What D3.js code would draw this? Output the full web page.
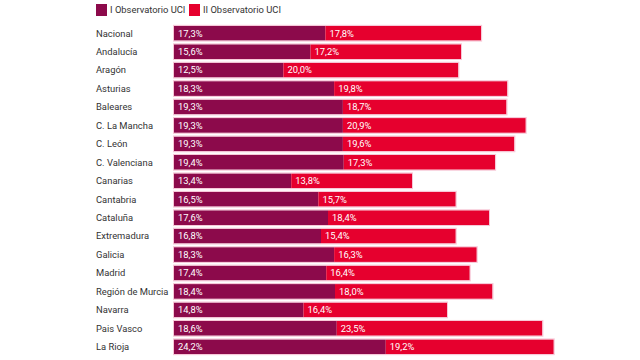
<!DOCTYPE html>
<html><head><meta charset="utf-8">
<script src="https://cdn.jsdelivr.net/npm/d3@7"></script>
<style>body{margin:0;background:#fff;}svg{display:block;font-family:Roboto,"Noto Sans",sans-serif;}</style>
</head><body>
<svg id="c" width="640" height="360"></svg>
<script>
const categories = ["Nacional","Andalucía","Aragón","Asturias","Baleares","C. La Mancha","C. León","C. Valenciana","Canarias","Cantabria","Cataluña","Extremadura","Galicia","Madrid","Región de Murcia","Navarra","Pais Vasco","La Rioja"];
const seriesI  = [17.3,15.6,12.5,18.3,19.3,19.3,19.3,19.4,13.4,16.5,17.6,16.8,18.3,17.4,18.4,14.8,18.6,24.2];
const seriesII = [17.8,17.2,20.0,19.8,18.7,20.9,19.6,17.3,13.8,15.7,18.4,15.4,16.3,16.4,18.0,16.4,23.5,19.2];
const seriesNames = ["I Observatorio UCI","II Observatorio UCI"];
const colors = ["#8c0a4b","#e6002e"];
const FS = 9.4;

const svg = d3.select("#c");
const x = d3.scaleLinear().domain([0, 45]).range([174, 174 + 45*8.75]);
const y = d3.scaleBand().domain(categories).range([24, 356]).paddingInner(0.2).paddingOuter(0.1);

const rows = categories.map((c,i)=>({c, a: seriesI[i], b: seriesII[i]}));
const fmt = v => d3.format(".1f")(v).replace(".", ",") + "%";

const g = svg.append("g");
rows.forEach(r => {
  const segs = [{s:0, e:r.a, v:r.a, k:0},{s:r.a, e:r.a+r.b, v:r.b, k:1}];
  segs.forEach(sg => {
    g.append("rect").attr("x", x(sg.s)).attr("y", y(r.c))
      .attr("width", x(sg.e)-x(sg.s)).attr("height", y.bandwidth())
      .attr("fill", colors[sg.k]);
    g.append("text").attr("x", x(sg.s)+4).attr("y", y(r.c)+y.bandwidth()/2)
      .attr("dy","0.35em").attr("fill","#fff").attr("font-size",FS).text(fmt(sg.v));
  });
  g.append("rect").attr("x", x(0)-0.5).attr("y", y(r.c)-0.5)
    .attr("width", x(r.a+r.b)-x(0)+1).attr("height", y.bandwidth()+1)
    .attr("fill","none").attr("stroke","#f7c6d6").attr("stroke-width",1);
  svg.append("text").attr("x", 96).attr("y", y(r.c)+y.bandwidth()/2).attr("dy","0.35em")
    .attr("fill","#333").attr("font-size",FS).text(r.c);
});

const leg = svg.append("g");
const lx = [96, 189];
seriesNames.forEach((n,i)=>{
  leg.append("rect").attr("x", lx[i]).attr("y", 4).attr("width", 11).attr("height", 12).attr("fill", colors[i]);
  leg.append("text").attr("x", lx[i]+14).attr("y", 10).attr("dy","0.35em").attr("fill","#333").attr("font-size",FS).text(n);
});
</script>
</body></html>
